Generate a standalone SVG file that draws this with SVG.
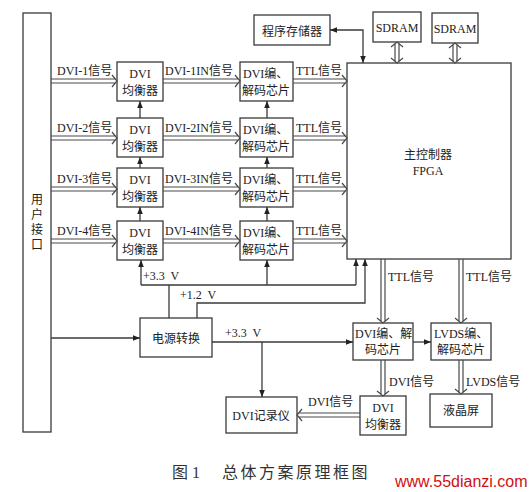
<svg xmlns="http://www.w3.org/2000/svg" width="529" height="492" viewBox="0 0 529 492">
<style>
.b{fill:#fff;stroke:#3a3a3a;stroke-width:1.3}
.l{fill:none;stroke:#3a3a3a;stroke-width:1.3}
.d{fill:none;stroke:#4a4a4a;stroke-width:1.2}
text{font-family:"Liberation Serif","Noto Sans CJK SC",serif;font-size:12px;fill:#222}
.c{text-anchor:middle}
.cap{font-size:16px;fill:#333}
.wm{font-family:"Liberation Sans",Arial,sans-serif;font-size:16px;fill:#d01010}
</style>
<defs>
<marker id="a" viewBox="0 0 10 10" refX="10" refY="5" markerWidth="7" markerHeight="7" markerUnits="userSpaceOnUse" orient="auto-start-reverse"><path d="M0,1 L10,5 L0,9 z" fill="#222"/></marker>
</defs>
<rect width="529" height="492" fill="#fff"/>

<g id="user"><rect class="b" x="23" y="13" width="28" height="419"/>
<text class="c" x="37" y="204">用</text><text class="c" x="37" y="219">户</text><text class="c" x="37" y="234">接</text><text class="c" x="37" y="249">口</text></g>

<g id="eq1"><rect class="b" x="117" y="62" width="46" height="39"/><text class="c" x="140" y="78">DVI</text><text class="c" x="140" y="95">均衡器</text></g>
<g id="eq2"><rect class="b" x="117" y="118" width="46" height="39"/><text class="c" x="140" y="134">DVI</text><text class="c" x="140" y="151">均衡器</text></g>
<g id="eq3"><rect class="b" x="117" y="168" width="46" height="39"/><text class="c" x="140" y="184">DVI</text><text class="c" x="140" y="201">均衡器</text></g>
<g id="eq4"><rect class="b" x="117" y="221" width="46" height="39"/><text class="c" x="140" y="237">DVI</text><text class="c" x="140" y="254">均衡器</text></g>

<g id="dec1"><rect class="b" x="240" y="62" width="53" height="39"/><text x="243" y="78">DVI编、</text><text x="242" y="95">解码芯片</text></g>
<g id="dec2"><rect class="b" x="240" y="118" width="53" height="39"/><text x="243" y="134">DVI编、</text><text x="242" y="151">解码芯片</text></g>
<g id="dec3"><rect class="b" x="240" y="168" width="53" height="39"/><text x="243" y="184">DVI编、</text><text x="242" y="201">解码芯片</text></g>
<g id="dec4"><rect class="b" x="240" y="221" width="53" height="39"/><text x="243" y="237">DVI编、</text><text x="242" y="254">解码芯片</text></g>

<g id="fpga"><rect class="b" x="347" y="63" width="164" height="196"/><text class="c" x="428" y="159">主控制器</text><text class="c" x="428" y="175">FPGA</text></g>
<g id="sdram1"><rect class="b" x="373" y="12" width="48" height="30"/><text class="c" x="397" y="32">SDRAM</text></g>
<g id="sdram2"><rect class="b" x="432" y="13" width="46" height="30"/><text class="c" x="455" y="33">SDRAM</text></g>
<g id="rom"><rect class="b" x="254" y="15" width="76" height="30"/><text class="c" x="292" y="36">程序存储器</text></g>

<g id="power"><rect class="b" x="140" y="318" width="72" height="39"/><text class="c" x="176" y="343">电源转换</text></g>
<g id="dvidec"><rect class="b" x="353" y="323" width="60" height="37"/><text x="355" y="338">DVI编、解</text><text class="c" x="383" y="354">码芯片</text></g>
<g id="lvds"><rect class="b" x="431" y="323" width="60" height="37"/><text x="434" y="338">LVDS编、</text><text x="437" y="354">解码芯片</text></g>
<g id="eq5"><rect class="b" x="360" y="396" width="46" height="39"/><text class="c" x="383" y="412">DVI</text><text class="c" x="383" y="429">均衡器</text></g>
<g id="lcd"><rect class="b" x="430" y="394" width="62" height="33"/><text class="c" x="461" y="415">液晶屏</text></g>
<g id="rec"><rect class="b" x="226" y="397" width="71" height="36"/><text class="c" x="261" y="420">DVI记录仪</text></g>

<g id="connectors">
<path class="d" d="M51,79 H115 M51,83 H115 M112,75 L117,81 L112,87 M163,79 H238 M163,83 H238 M235,75 L240,81 L235,87 M293,79 H345 M293,83 H345 M342,75 L347,81 L342,87"/>
<path class="d" d="M51,136 H115 M51,140 H115 M112,132 L117,138 L112,144 M163,136 H238 M163,140 H238 M235,132 L240,138 L235,144 M293,136 H345 M293,140 H345 M342,132 L347,138 L342,144"/>
<path class="d" d="M51,187 H115 M51,191 H115 M112,183 L117,189 L112,195 M163,187 H238 M163,191 H238 M235,183 L240,189 L235,195 M293,187 H345 M293,191 H345 M342,183 L347,189 L342,195"/>
<path class="d" d="M51,239 H115 M51,243 H115 M112,235 L117,241 L112,247 M163,239 H238 M163,243 H238 M235,235 L240,241 L235,247 M293,239 H345 M293,243 H345 M342,235 L347,241 L342,247"/>
<path class="d" d="M381,259 V321 M385,259 V321 M377,318 L383,323 L389,318 M459,259 V321 M463,259 V321 M455,318 L461,323 L467,318"/>
<path class="d" d="M381,360 V394 M385,360 V394 M377,391 L383,396 L389,391 M459,360 V392 M463,360 V392 M455,389 L461,394 L467,389"/>
<path class="d" d="M360,413 H299 M360,417 H299 M302,409 L297,415 L302,421"/>
<path class="d" d="M395,44 V61 M399,44 V61 M391,47 L397,42 L403,47 M391,58 L397,63 L403,58 M453,45 V61 M457,45 V61 M449,48 L455,43 L461,48 M449,58 L455,63 L461,58"/>
<path class="l" d="M330,30 H363 V63" marker-start="url(#a)" marker-end="url(#a)"/>
<line class="l" x1="140" y1="118" x2="140" y2="101" marker-end="url(#a)"/>
<line class="l" x1="140" y1="168" x2="140" y2="157" marker-end="url(#a)"/>
<line class="l" x1="140" y1="221" x2="140" y2="207" marker-end="url(#a)"/>
<line class="l" x1="267" y1="118" x2="267" y2="101" marker-end="url(#a)"/>
<line class="l" x1="267" y1="168" x2="267" y2="157" marker-end="url(#a)"/>
<line class="l" x1="267" y1="221" x2="267" y2="207" marker-end="url(#a)"/>
<path class="l" d="M141,285 H356 M169,285 V318"/>
<line class="l" x1="141" y1="285" x2="141" y2="260" marker-end="url(#a)"/>
<line class="l" x1="267" y1="285" x2="267" y2="260" marker-end="url(#a)"/>
<line class="l" x1="356" y1="285" x2="356" y2="259" marker-end="url(#a)"/>
<path class="l" d="M197,318 V303 H365 V259" marker-end="url(#a)"/>
<line class="l" x1="51" y1="338" x2="140" y2="338" marker-end="url(#a)"/>
<line class="l" x1="212" y1="342" x2="353" y2="342" marker-end="url(#a)"/>
<line class="l" x1="262" y1="342" x2="262" y2="397" marker-end="url(#a)"/>
<line class="l" x1="413" y1="342" x2="431" y2="342" marker-end="url(#a)"/>
</g>

<g id="labels">
<text x="57" y="75">DVI-1信号</text><text x="57" y="132">DVI-2信号</text><text x="57" y="183">DVI-3信号</text><text x="57" y="235">DVI-4信号</text>
<text x="165" y="75">DVI-1IN信号</text><text x="165" y="132">DVI-2IN信号</text><text x="165" y="183">DVI-3IN信号</text><text x="165" y="235">DVI-4IN信号</text>
<text x="296" y="75">TTL信号</text><text x="296" y="132">TTL信号</text><text x="296" y="183">TTL信号</text><text x="296" y="235">TTL信号</text>
<text x="143" y="280" xml:space="preserve">+3.3  V</text>
<text x="180" y="299" xml:space="preserve">+1.2  V</text>
<text x="225" y="337" xml:space="preserve">+3.3  V</text>
<text x="388" y="281">TTL信号</text><text x="466" y="281">TTL信号</text>
<text x="389" y="386">DVI信号</text><text x="466" y="386">LVDS信号</text>
<text x="308" y="406">DVI信号</text>
<text class="cap" x="172" y="478">图 1</text>
<text class="cap" x="222" y="478" letter-spacing="2.5">总体方案原理框图</text>
<text class="wm" x="395" y="487">www.55dianzi.com</text>
</g>
</svg>
